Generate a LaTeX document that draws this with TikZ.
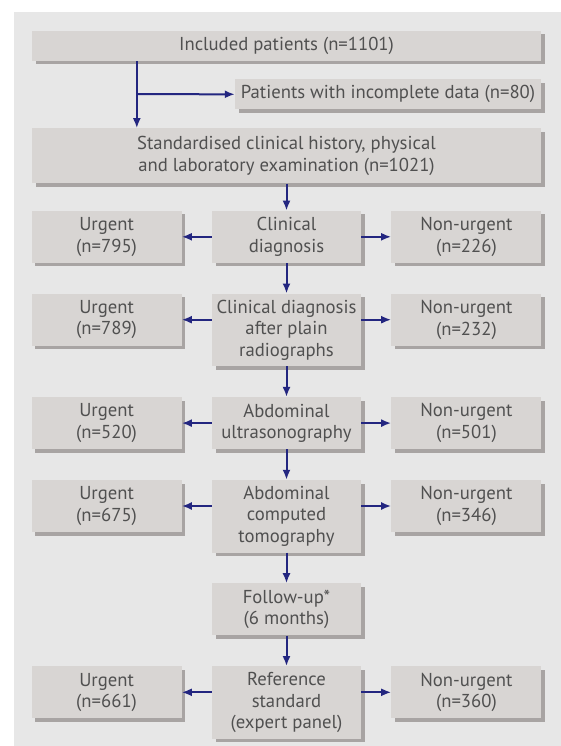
\documentclass[tikz,border=0pt]{standalone}
\usepackage{fontspec}
\setmainfont{PT Sans}
\usepackage{xcolor}
\usepackage{tikz}
\usetikzlibrary{calc, arrows.meta, positioning, shadows}

\definecolor{panelgray}{RGB}{231,231,231}
\definecolor{boxgray}{RGB}{216,213,211}
\definecolor{shadegray}{RGB}{168,164,163}
\definecolor{inkgray}{RGB}{80,80,80}
\definecolor{flownavy}{RGB}{35,38,128}

\begin{document}
\begin{tikzpicture}[
    x=1pt, y=1pt,
    node distance=30.5pt,
    box/.style={fill=boxgray, text=inkgray, inner sep=0pt, align=center, font=\fontsize{18.7}{21.5}\selectfont,
        general shadow={fill=shadegray, shadow xshift=3.5pt, shadow yshift=-3.5pt}},
    wide/.style={box, minimum width=509pt, minimum height=30pt},
    stage/.style={box, minimum width=149pt, minimum height=52pt},
    tall/.style={stage, minimum height=72.5pt},
    outcome/.style={box, minimum width=150pt, minimum height=52pt},
    flow/.style={draw=flownavy, line width=2pt, -{Latex[length=10pt, width=8pt]}}
]
    \fill [panelgray] (14,-12) rectangle (561,-746);
    \useasboundingbox (0,0) rectangle (561,-746);

    \node [wide] (incl) at (286.5,-46) {Included patients (n=1101)};
    \node [box, minimum width=306pt, minimum height=30pt, below=18pt of incl.south east, anchor=north east] (excl) {Patients with incomplete data (n=80)};
    \node [wide, minimum height=55pt, below=67pt of incl] (std) {Standardised clinical history, physical\\and laboratory examination (n=1021)};

    \node [stage, below=27pt of std] (cd) {Clinical\\diagnosis};
    \node [tall, below=of cd] (cdr) {Clinical diagnosis\\after plain\\radiographs};
    \node [stage, below=of cdr] (us) {Abdominal\\ultrasonography};
    \node [tall, below=of us] (ct) {Abdominal\\computed\\tomography};
    \node [stage, below=of ct] (fu) {Follow-up*\\(6 months)};
    \node [tall, below=of fu] (ref) {Reference\\standard\\(expert panel)};

    \node [outcome, left=30pt of cd.north west, anchor=north east] (cd-u) {Urgent\\(n=795)};
    \node [outcome, right=30pt of cd.north east, anchor=north west] (cd-n) {Non-urgent\\(n=226)};
    \node [outcome, left=30pt of cdr.north west, anchor=north east] (cdr-u) {Urgent\\(n=789)};
    \node [outcome, right=30pt of cdr.north east, anchor=north west] (cdr-n) {Non-urgent\\(n=232)};
    \node [outcome, left=30pt of us.north west, anchor=north east] (us-u) {Urgent\\(n=520)};
    \node [outcome, right=30pt of us.north east, anchor=north west] (us-n) {Non-urgent\\(n=501)};
    \node [outcome, left=30pt of ct.north west, anchor=north east] (ct-u) {Urgent\\(n=675)};
    \node [outcome, right=30pt of ct.north east, anchor=north west] (ct-n) {Non-urgent\\(n=346)};
    \node [outcome, left=30pt of ref.north west, anchor=north east] (ref-u) {Urgent\\(n=661)};
    \node [outcome, right=30pt of ref.north east, anchor=north west] (ref-n) {Non-urgent\\(n=360)};

    % exclusion branch
    \coordinate (branch) at ($(incl.south west)+(105,-33)$);
    \draw [flow] (incl.south -| branch) -- (std.north -| branch);
    \draw [flow] (branch) -- (excl);

    \draw [flow] (std) -- (cd);
    \draw [flow] (cd) -- (cdr);
    \draw [flow] (cdr) -- (us);
    \draw [flow] (us) -- (ct);
    \draw [flow] (ct) -- (fu);
    \draw [flow] (fu) -- (ref);

    \draw [flow] (cd.west |- cd-u) -- (cd-u);
    \draw [flow] (cd.east |- cd-n) -- (cd-n);
    \draw [flow] (cdr.west |- cdr-u) -- (cdr-u);
    \draw [flow] (cdr.east |- cdr-n) -- (cdr-n);
    \draw [flow] (us.west |- us-u) -- (us-u);
    \draw [flow] (us.east |- us-n) -- (us-n);
    \draw [flow] (ct.west |- ct-u) -- (ct-u);
    \draw [flow] (ct.east |- ct-n) -- (ct-n);
    \draw [flow] (ref.west |- ref-u) -- (ref-u);
    \draw [flow] (ref.east |- ref-n) -- (ref-n);
\end{tikzpicture}
\end{document}
